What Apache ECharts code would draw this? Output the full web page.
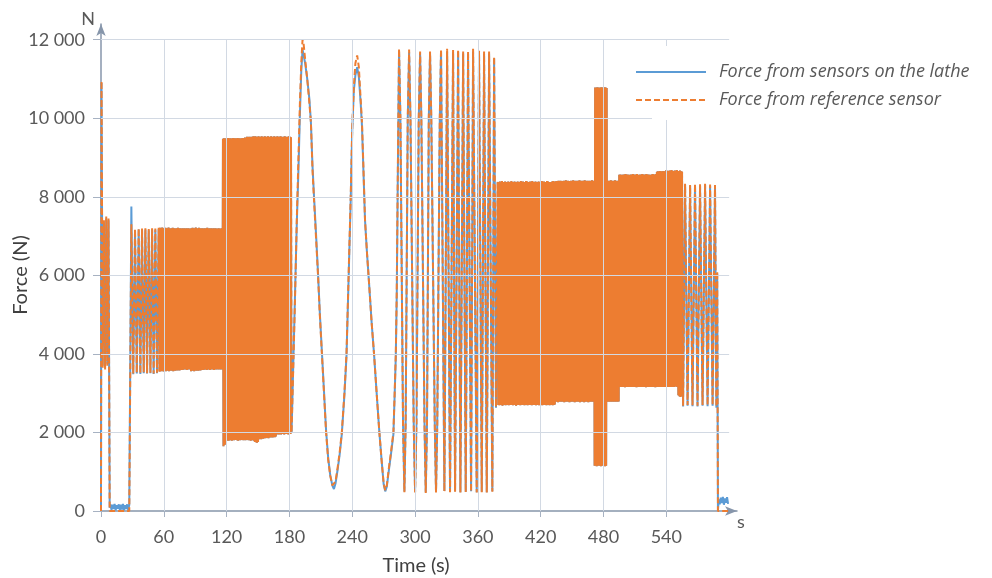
<!DOCTYPE html>
<html><head><meta charset="utf-8">
<script src="https://cdn.jsdelivr.net/npm/echarts@6.0.0/dist/echarts.min.js"></script>
<style>html,body{margin:0;padding:0;background:#fff}#c{width:992px;height:578px}</style>
</head><body><div id="c"></div>
<script>
const xTicks = [0, 60, 120, 180, 240, 300, 360, 420, 480, 540];
const yTicks = [0, 2000, 4000, 6000, 8000, 10000, 12000];
const seriesNames = ['Force from sensors on the lathe', 'Force from reference sensor'];

// --- start: spike, idle, first sparse oscillations (t 0 .. 55)
const startTime = [
  0,0.5,1.6,2.8,3.9,5.0,6.1,7.2,8.3,
  9,10,11,12,13,14,15,16,17,18,19,20,21,22,23,24,25,26,27,
  28,29.0,30.8,32.5,34.2,36.0,37.6,39.2,40.8,42.4,44.0,45.6,47.2,48.8,50.3,51.9,53.5,55.1
];
const startLathe = [
  0,10900,3700,7350,3650,7450,3750,7400,80,
  170,30,160,50,180,20,150,60,170,30,160,40,180,20,150,50,170,30,160,
  150,7750,3480,7150,3500,7170,3490,7160,3510,7170,3500,7150,3510,7170,3490,7160,3510,7180
];
const startReference = [
  0,10950,3650,7400,3600,7500,3700,7450,0,
  0,10,0,10,0,10,0,10,0,10,0,10,0,10,0,10,0,10,0,
  0,7300,3500,7180,3520,7200,3500,7190,3530,7200,3510,7180,3520,7200,3500,7190,3520,7210
];

// --- dense blocks t 56 .. 181.5 (both sensors coincide)
const block1Time = [
  56,56.5,57,57.5,58,58.5,59,59.5,60,60.5,61,61.5,62,62.5,63,63.5,64,64.5,65,65.5,
  66,66.5,67,67.5,68,68.5,69,69.5,70,70.5,71,71.5,72,72.5,73,73.5,74,74.5,75,75.5,
  76,76.5,77,77.5,78,78.5,79,79.5,80,80.5,81,81.5,82,82.5,83,83.5,84,84.5,85,85.5,
  86,86.5,87,87.5,88,88.5,89,89.5,90,90.5,91,91.5,92,92.5,93,93.5,94,94.5,95,95.5,
  96,96.5,97,97.5,98,98.5,99,99.5,100,100.5,101,101.5,102,102.5,103,103.5,104,104.5,105,105.5,
  106,106.5,107,107.5,108,108.5,109,109.5,110,110.5,111,111.5,112,112.5,113,113.5,114,114.5,115,115.5,
  116,
  116.5,117,117.5,118,118.5,119,119.5,120,120.5,121,121.5,122,122.5,123,123.5,124,124.5,125,125.5,126,
  126.5,127,127.5,128,128.5,129,129.5,130,130.5,131,131.5,132,132.5,133,133.5,134,134.5,135,135.5,136,
  136.5,137,137.5,138,138.5,139,139.5,140,140.5,141,141.5,142,142.5,143,143.5,144,144.5,145,145.5,146,
  146.5,147,147.5,148,148.5,149,149.5,150,150.5,151,151.5,152,152.5,153,153.5,154,154.5,155,155.5,156,
  156.5,157,157.5,158,158.5,159,159.5,160,160.5,161,161.5,162,162.5,163,163.5,164,164.5,165,165.5,166,
  166.5,167,167.5,168,168.5,169,169.5,170,170.5,171,171.5,172,172.5,173,173.5,174,174.5,175,175.5,176,
  176.5,177,177.5,178,178.5,179,179.5,180,180.5,181,181.5
];
const block1Force = [
  3550,7210,3570,7190,3560,7220,3580,7200,3550,7180,3570,7210,3560,7200,3590,7190,3570,7220,3560,7200,
  3580,7170,3570,7200,3590,7210,3560,7190,3580,7200,3570,7180,3590,7200,3580,7210,3600,7190,3580,7200,
  3590,7180,3600,7200,3590,7190,3610,7200,3600,7180,3610,7200,3590,7190,3610,7200,3600,7180,3620,7190,
  3560,7200,3570,7210,3580,7190,3560,7200,3590,7220,3570,7200,3580,7180,3570,7210,3590,7200,3580,7190,
  3590,7200,3600,7180,3590,7200,3610,7190,3600,7200,3590,7210,3600,7180,3610,7200,3590,7190,3600,7200,
  3610,7180,3600,7200,3590,7190,3610,7200,3600,7180,3620,7190,3600,7200,3610,7180,3600,7190,3610,7200,
  3600,
  9480,1650,9490,1680,9470,1700,9490,1790,9480,1800,9500,1790,9480,1810,9490,1800,9470,1790,9490,1810,
  9500,1800,9480,1820,9490,1810,9470,1800,9500,1790,9480,1810,9490,1800,9470,1820,9490,1810,9500,1800,
  9480,1810,9510,1800,9500,1820,9530,1810,9520,1800,9530,1820,9510,1790,9530,1800,9520,1810,9540,1790,
  9530,1760,9540,1750,9520,1740,9530,1760,9540,1830,9520,1840,9530,1830,9540,1850,9520,1840,9530,1860,
  9540,1850,9520,1870,9530,1860,9540,1850,9520,1880,9530,1870,9540,1880,9520,1870,9530,1890,9540,1880,
  9520,1900,9530,1950,9540,1960,9520,1950,9530,1960,9540,1950,9530,1970,9520,1960,9530,1950,9540,1960,
  9530,1970,9520,1960,9530,1950,9540,1970,9530,1960,9510
];

// --- two slow humps and the fast sweep (t 182 .. 377)
const midTime = [
  182,184,185.5,187,188.5,190,191.3,192.5,193.5,195,
  197,199,200.5,202,203.5,205.5,207.3,209,211,213,
  215,217,219,221,222.5,224,226,228,230,232.5,
  234.5,236.5,238.5,240,241.5,243,244.7,246.3,248,249.3,
  250.5,252.2,254,256.3,258.5,260.8,263.3,265.9,268,270,
  271.5,273,275,277,279.3,280.5,281.6,282.5,283.3,284,284.7,
  286.0,288.5,289.8,291.0,293.0,294.3,295.6,298.7,300.0,301.3,
  303.5,304.8,306.0,309.0,310.2,311.4,313.1,314.3,315.5,318.8,
  320.0,321.2,323.6,324.8,
  328.0,330.6,333.4,336.3,338.2,341.1,343.3,345.9,348.4,350.6,
  353.5,355.4,358.9,361.1,363.7,365.9,368.5,370.7,373.8,375.5,
  377.3
];
const midLathe = [
  1990,4100,5700,7300,8600,10100,11200,11750,11700,11400,
  11000,10500,9900,8800,8000,7000,6050,5050,4050,3050,
  2050,1350,900,650,560,700,1050,1450,1950,2950,
  3950,5900,7900,9700,10700,11100,11300,11050,10400,9800,
  8800,7400,6600,5700,4800,4000,3000,2000,1300,680,
  500,620,1050,1450,1950,2950,3950,5500,7900,9900,11700,
  9950,2250,500,2250,9950,11680,9950,2250,490,2250,
  9950,11650,9950,2250,480,2250,9950,11660,9950,2250,
  490,2250,9950,11690,
  510,11700,490,11680,500,11690,480,11650,490,11640,
  500,11700,480,11660,490,11640,480,11650,500,11520,
  2630
];
const midReference = [
  1990,4000,5600,7400,8900,10400,11400,12000,11900,11500,
  11000,10400,9900,8700,7900,6900,6000,5000,4000,3000,
  2000,1300,900,650,610,750,1100,1500,2000,3000,
  4000,6000,8000,9800,10800,11400,11600,11300,10500,9900,
  8900,7400,6600,5700,4800,4000,3000,2000,1300,700,
  530,650,1100,1500,2000,3000,4000,5600,8000,10000,11770,
  10000,2200,480,2200,10000,11750,10000,2200,470,2200,
  10000,11700,10000,2200,460,2200,10000,11700,10000,2200,
  470,2200,10000,11760,
  500,11770,480,11740,490,11750,470,11700,480,11700,
  490,11770,470,11720,480,11700,470,11700,490,11570,
  2650
];

// --- long dense block t 379 .. 555 (both sensors coincide)
const block2Time = [
  379,379.5,380,380.5,381,381.5,382,382.5,383,383.5,384,384.5,385,385.5,386,386.5,387,387.5,388,388.5,
  389,389.5,390,390.5,391,391.5,392,392.5,393,393.5,394,394.5,395,395.5,396,396.5,397,397.5,398,398.5,
  399,399.5,400,400.5,401,401.5,402,402.5,403,403.5,404,404.5,405,405.5,406,406.5,407,407.5,408,408.5,
  409,409.5,410,410.5,411,411.5,412,412.5,413,413.5,414,414.5,415,415.5,416,416.5,417,417.5,418,418.5,
  419,419.5,420,420.5,421,421.5,422,422.5,423,423.5,424,424.5,425,425.5,426,426.5,427,427.5,428,428.5,
  429,429.5,430,430.5,431,431.5,432,432.5,433,433.5,434,434.5,435,435.5,436,436.5,437,437.5,438,438.5,
  439,439.5,440,440.5,441,441.5,442,442.5,443,443.5,444,444.5,445,445.5,446,446.5,447,447.5,448,448.5,
  449,449.5,450,450.5,451,451.5,452,452.5,453,453.5,454,454.5,455,455.5,456,456.5,457,457.5,458,458.5,
  459,459.5,460,460.5,461,461.5,462,462.5,463,463.5,464,464.5,465,465.5,466,466.5,467,467.5,468,468.5,
  469,469.5,470,470.5,471,471.5,472,472.5,473,473.5,474,474.5,475,475.5,476,476.5,477,477.5,478,478.5,
  479,479.5,480,480.5,481,481.5,482,482.5,483,483.5,484,484.5,485,485.5,486,486.5,487,487.5,488,488.5,
  489,489.5,490,490.5,491,491.5,492,492.5,493,493.5,494,494.5,495,495.5,496,496.5,497,497.5,498,498.5,
  499,499.5,500,500.5,501,501.5,502,502.5,503,503.5,504,504.5,505,505.5,506,506.5,507,507.5,508,508.5,
  509,509.5,510,510.5,511,511.5,512,512.5,513,513.5,514,514.5,515,515.5,516,516.5,517,517.5,518,518.5,
  519,519.5,520,520.5,521,521.5,522,522.5,523,523.5,524,524.5,525,525.5,526,526.5,527,527.5,528,528.5,
  529,529.5,530,530.5,531,531.5,532,532.5,533,533.5,534,534.5,535,535.5,536,536.5,537,537.5,538,538.5,
  539,539.5,540,540.5,541,541.5,542,542.5,543,543.5,544,544.5,545,545.5,546,546.5,547,547.5,548,548.5,
  549,549.5,550,550.5,551,551.5,552,552.5,553,553.5,554,554.5,555
];
const block2Force = [
  8380,2700,8370,2690,8390,2710,8360,2700,8400,2680,8380,2720,8370,2700,8390,2690,8380,2710,8360,2700,
  8390,2690,8380,2710,8370,2700,8400,2720,8380,2690,8370,2700,8390,2710,8380,2680,8360,2700,8390,2710,
  8380,2700,8370,2690,8400,2710,8380,2700,8390,2720,8370,2690,8380,2700,8400,2710,8390,2690,8380,2700,
  8370,2710,8390,2700,8380,2690,8400,2700,8370,2720,8380,2700,8390,2690,8380,2710,8370,2700,8390,2690,
  8380,2700,8370,2710,8400,2690,8380,2700,8390,2720,8370,2700,8380,2690,8400,2710,8390,2700,8380,2690,
  8370,2710,8380,2700,8390,2690,8400,2700,8380,2710,8390,2780,8400,2790,8390,2770,8410,2780,8400,2790,
  8410,2780,8400,2790,8390,2780,8410,2770,8400,2790,8420,2780,8400,2790,8410,2780,8390,2770,8400,2790,
  8410,2780,8400,2790,8420,2780,8400,2770,8410,2790,8400,2780,8410,2790,8400,2780,8420,2770,8410,2790,
  8400,2780,8410,2790,8400,2770,8420,2780,8410,2790,8400,2780,8410,2770,8400,2790,8410,2780,8400,2790,
  8420,2780,8400,2790,8410,1150,10780,1160,10770,1140,10790,1150,10780,1160,10770,1150,10780,1140,10790,1150,
  10780,1160,10770,1150,10790,1140,10780,1150,10770,2780,8400,2790,8410,2780,8400,2790,8420,2780,8410,2790,
  8400,2780,8410,2790,8420,2780,8400,2790,8410,2780,8400,2790,8560,3160,8570,3170,8560,3160,8550,3170,
  8570,3160,8560,3150,8580,3170,8560,3160,8570,3170,8560,3160,8550,3170,8570,3160,8560,3170,8580,3160,
  8570,3170,8560,3160,8570,3150,8580,3170,8560,3160,8550,3170,8570,3160,8560,3170,8580,3160,8570,3170,
  8560,3160,8570,3150,8580,3170,8560,3160,8570,3170,8560,3160,8550,3170,8570,3160,8580,3170,8560,3160,
  8570,3150,8580,3170,8640,3160,8650,3170,8640,3160,8660,3170,8650,3160,8640,3170,8660,3160,8650,3170,
  8650,3160,8680,3170,8660,3160,8650,3170,8670,3160,8650,3170,8680,3160,8660,3170,8650,3160,8670,3170,
  8650,3170,8680,3160,8660,2950,8650,2920,8670,2900,8650,2920,8640
];

// --- tail oscillations, drop and idle (t 556 .. 599)
const endTime = [
  556.0,557.9,560.3,562.7,565.0,567.4,569.8,572.2,574.6,577.0,579.4,581.8,584.2,586.5,587.8,588.6,589.3,
  590,591,592,593,594,595,596,597,598,599
];
const endLathe = [
  2660,8300,2680,8280,2670,8300,2660,8290,2680,8300,2670,8280,2680,8270,2630,6050,0,
  300,170,340,200,360,160,320,210,350,180
];
const endReference = [
  2680,8330,2700,8300,2690,8330,2680,8320,2700,8330,2690,8310,2700,8300,2650,6100,0,
  0,0,0,0,0,0,0,0,0,0
];

const FONT = 'Lato';
const LEGEND_FONT = 'Open Sans';
const gridLineColor = '#d2d9e3';
const axisColor = '#8796ab';
const labelColor = '#595959';
const BLUE = '#5b9bd5';
const ORANGE = '#ed7d31';

const pairs = (ts, vs) => ts.map((t, i) => [t, vs[i]]);
const first = (ts, vs) => [ts[0], vs[0]];
const last = (ts, vs) => [ts[ts.length - 1], vs[vs.length - 1]];

const latheData = [].concat(
  pairs(startTime, startLathe), pairs(block1Time, block1Force), pairs(midTime, midLathe),
  pairs(block2Time, block2Force), pairs(endTime, endLathe));

// reference sensor: sparse parts drawn dashed, dense blocks drawn as one solid fill of the same data
const referenceSparse = [].concat(
  pairs(startTime, startReference), [first(block1Time, block1Force), null, last(block1Time, block1Force)],
  pairs(midTime, midReference), [first(block2Time, block2Force), null, last(block2Time, block2Force)],
  pairs(endTime, endReference));
const referenceDense = [].concat(
  pairs(block1Time, block1Force), [null], pairs(block2Time, block2Force));

const checks = [
  [startTime, startLathe], [startTime, startReference], [block1Time, block1Force],
  [midTime, midLathe], [midTime, midReference], [block2Time, block2Force],
  [endTime, endLathe], [endTime, endReference]
].map(p => p[0].length === p[1].length ? '' : (p[0].length + '/' + p[1].length)).filter(s => s);

const chart = echarts.init(document.getElementById('c'), null, {renderer: 'canvas'});

const gridLines = [];
yTicks.filter(v => v > 0).forEach(v => gridLines.push([{coord: [0, v]}, {coord: [600, v]}]));
xTicks.filter(v => v > 0).forEach(v => gridLines.push([{coord: [v, 0]}, {coord: [v, 12000]}]));

const graphics = [
  {type: 'rect', z: 10, silent: true, shape: {x: 652, y: 46, width: 340, height: 74}, style: {fill: '#ffffff'}},
  {type: 'text', x: 21, y: 275, rotation: Math.PI / 2, style: {text: 'Force (N)', fontFamily: FONT, fontSize: 20, fill: '#404040', align: 'center', verticalAlign: 'middle'}},
  {type: 'text', x: 416, y: 566, style: {text: 'Time (s)', fontFamily: FONT, fontSize: 20, fill: '#404040', align: 'center', verticalAlign: 'middle'}},
  {type: 'text', x: 88, y: 19, style: {text: 'N', fontFamily: FONT, fontSize: 18, fill: labelColor, align: 'center', verticalAlign: 'middle'}},
  {type: 'text', x: 741, y: 522, style: {text: 's', fontFamily: FONT, fontSize: 18, fill: labelColor, align: 'center', verticalAlign: 'middle'}}
];
if (checks.length) {
  graphics.push({type: 'text', x: 300, y: 20, style: {text: 'LEN ' + checks.join(' '), fontSize: 16, fill: 'red'}});
}

chart.setOption({
  animation: false,
  backgroundColor: '#ffffff',
  grid: {left: 101, right: 255, top: 24, bottom: 67, containLabel: false},
  xAxis: {
    type: 'value', min: 0, max: 607.5,
    axisLine: {show: true, lineStyle: {color: axisColor, width: 1.5}, symbol: ['none', 'arrow'], symbolSize: [7, 12]},
    axisTick: {show: true, length: 6, customValues: xTicks, lineStyle: {color: '#a7b2c2'}},
    axisLabel: {customValues: xTicks, margin: 17, color: labelColor, fontFamily: FONT, fontSize: 18},
    splitLine: {show: false}
  },
  yAxis: {
    type: 'value', min: 0, max: 12400,
    axisLine: {show: true, lineStyle: {color: axisColor, width: 1.5}, symbol: ['none', 'arrow'], symbolSize: [7, 12]},
    axisTick: {show: true, length: 8, customValues: yTicks, lineStyle: {color: '#a7b2c2'}},
    axisLabel: {customValues: yTicks, margin: 16, color: labelColor, fontFamily: FONT, fontSize: 18,
      formatter: v => String(v).replace(/\B(?=(\d{3})+(?!\d))/g, ' ')},
    splitLine: {show: false}
  },
  legend: {
    orient: 'vertical', left: 635, top: 61, padding: 0, z: 20,
    itemWidth: 70, itemHeight: 14, itemGap: 6,
    itemStyle: {opacity: 0},
    data: seriesNames,
    textStyle: {fontFamily: LEGEND_FONT, fontStyle: 'italic', fontSize: 18, color: labelColor, lineHeight: 22, padding: [0, 0, 0, 8]}
  },
  graphic: graphics,
  series: [
    {
      name: 'grid', type: 'line', data: [], silent: true, z: 1,
      markLine: {silent: true, animation: false, symbol: ['none', 'none'], label: {show: false},
        lineStyle: {color: gridLineColor, width: 1, type: 'solid'}, data: gridLines}
    },
    {
      name: seriesNames[0], type: 'line', z: 2, symbol: 'none', showSymbol: false,
      data: latheData,
      lineStyle: {color: BLUE, width: 2}, itemStyle: {color: BLUE}
    },
    {
      name: seriesNames[1], type: 'line', z: 3, symbol: 'none', showSymbol: false, connectNulls: false,
      data: referenceSparse,
      lineStyle: {color: ORANGE, width: 2, type: [6, 3]}, itemStyle: {color: ORANGE}
    },
    {
      name: seriesNames[1], type: 'line', z: 3, symbol: 'none', showSymbol: false, connectNulls: false,
      data: referenceDense,
      lineStyle: {color: ORANGE, width: 2, type: 'solid'}, itemStyle: {color: ORANGE}
    }
  ]
});
</script>
</body></html>
